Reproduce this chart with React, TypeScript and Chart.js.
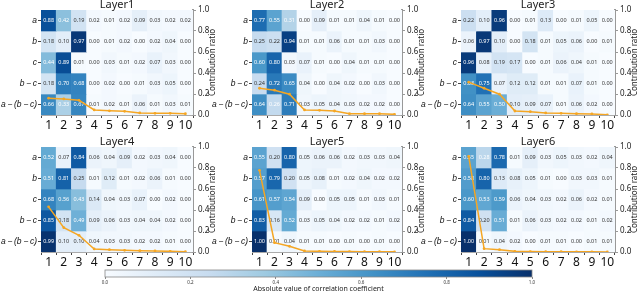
import React, { useEffect, useRef } from 'react';
import { Chart, registerables } from 'chart.js';

Chart.register(...registerables);

// ---------- data ----------
const ROW_LABELS = ['a', 'b', 'c', 'b\u2009\u2212\u2009c', 'a\u2009\u2212\u2009(b\u2009\u2212\u2009c)'];
const COMPONENTS = ['1', '2', '3', '4', '5', '6', '7', '8', '9', '10'];
const LAYER_NAMES = ['Layer1', 'Layer2', 'Layer3', 'Layer4', 'Layer5', 'Layer6'];

const LAYER1 = [
  [0.88, 0.42, 0.19, 0.02, 0.01, 0.02, 0.09, 0.03, 0.02, 0.02],
  [0.18, 0.10, 0.97, 0.00, 0.01, 0.02, 0.00, 0.02, 0.04, 0.00],
  [0.44, 0.89, 0.01, 0.00, 0.03, 0.01, 0.02, 0.07, 0.03, 0.00],
  [0.18, 0.70, 0.68, 0.00, 0.02, 0.00, 0.01, 0.03, 0.05, 0.00],
  [0.66, 0.33, 0.67, 0.01, 0.02, 0.01, 0.06, 0.01, 0.03, 0.01],
];
const LAYER2 = [
  [0.77, 0.55, 0.31, 0.00, 0.09, 0.01, 0.01, 0.04, 0.01, 0.00],
  [0.25, 0.22, 0.94, 0.01, 0.01, 0.06, 0.01, 0.01, 0.03, 0.00],
  [0.60, 0.80, 0.03, 0.07, 0.01, 0.00, 0.04, 0.01, 0.01, 0.00],
  [0.24, 0.72, 0.65, 0.04, 0.00, 0.04, 0.02, 0.00, 0.03, 0.00],
  [0.64, 0.26, 0.71, 0.03, 0.05, 0.04, 0.03, 0.02, 0.02, 0.00],
];
const LAYER3 = [
  [0.22, 0.10, 0.96, 0.00, 0.01, 0.13, 0.00, 0.01, 0.05, 0.00],
  [0.06, 0.97, 0.10, 0.00, 0.18, 0.01, 0.05, 0.06, 0.00, 0.01],
  [0.96, 0.08, 0.19, 0.17, 0.00, 0.01, 0.06, 0.04, 0.01, 0.00],
  [0.63, 0.75, 0.07, 0.12, 0.12, 0.01, 0.01, 0.07, 0.01, 0.00],
  [0.64, 0.55, 0.50, 0.10, 0.09, 0.07, 0.01, 0.06, 0.02, 0.00],
];
const LAYER4 = [
  [0.52, 0.07, 0.84, 0.06, 0.04, 0.09, 0.02, 0.03, 0.04, 0.00],
  [0.51, 0.81, 0.25, 0.01, 0.12, 0.01, 0.02, 0.06, 0.01, 0.00],
  [0.68, 0.56, 0.43, 0.14, 0.04, 0.03, 0.07, 0.00, 0.02, 0.00],
  [0.85, 0.18, 0.49, 0.09, 0.06, 0.03, 0.04, 0.04, 0.02, 0.00],
  [0.99, 0.10, 0.10, 0.04, 0.03, 0.03, 0.02, 0.02, 0.01, 0.00],
];
const LAYER5 = [
  [0.55, 0.20, 0.80, 0.05, 0.06, 0.06, 0.02, 0.03, 0.03, 0.04],
  [0.57, 0.79, 0.20, 0.05, 0.08, 0.01, 0.02, 0.04, 0.02, 0.02],
  [0.61, 0.57, 0.54, 0.09, 0.00, 0.05, 0.05, 0.01, 0.03, 0.01],
  [0.83, 0.16, 0.52, 0.03, 0.05, 0.04, 0.02, 0.02, 0.01, 0.02],
  [1.00, 0.01, 0.04, 0.01, 0.01, 0.00, 0.01, 0.00, 0.01, 0.00],
];
const LAYER6 = [
  [0.55, 0.28, 0.78, 0.01, 0.09, 0.03, 0.05, 0.03, 0.02, 0.04],
  [0.58, 0.80, 0.13, 0.08, 0.05, 0.01, 0.00, 0.03, 0.03, 0.01],
  [0.60, 0.53, 0.59, 0.06, 0.04, 0.03, 0.02, 0.06, 0.02, 0.01],
  [0.84, 0.20, 0.51, 0.01, 0.06, 0.03, 0.02, 0.02, 0.01, 0.02],
  [1.00, 0.01, 0.04, 0.02, 0.00, 0.01, 0.01, 0.00, 0.01, 0.01],
];

const RATIO1 = [0.16, 0.153, 0.14, 0.048, 0.04, 0.035, 0.02, 0.016, 0.016, 0.013];
const RATIO2 = [0.255, 0.236, 0.198, 0.048, 0.045, 0.038, 0.013, 0.013, 0.013, 0.006];
const RATIO3 = [0.313, 0.255, 0.198, 0.038, 0.032, 0.02, 0.016, 0.013, 0.01, 0.002];
const RATIO4 = [0.43, 0.232, 0.159, 0.029, 0.022, 0.016, 0.013, 0.01, 0.006, 0.003];
const RATIO5 = [0.778, 0.089, 0.054, 0.01, 0.006, 0.005, 0.004, 0.003, 0.003, 0.002];
const RATIO6 = [0.91, 0.032, 0.022, 0.006, 0.004, 0.003, 0.003, 0.002, 0.002, 0.001];

const RATIO_TICKS = [0, 0.2, 0.4, 0.6, 0.8, 1.0];
const CBAR_TICKS = [0, 0.2, 0.4, 0.6, 0.8, 1.0];
const CBAR_TITLE = 'Absolute value of correlation coefficient';
const RATIO_TITLE = 'Contribution ratio';

const MATRICES = [LAYER1, LAYER2, LAYER3, LAYER4, LAYER5, LAYER6];
const RATIOS = [RATIO1, RATIO2, RATIO3, RATIO4, RATIO5, RATIO6];

// ---------- style ----------
const FONT = "'Noto Sans', 'DejaVu Sans', sans-serif";
const ORANGE = '#f5a623';
const BLUES = ['#f7fbff', '#deebf7', '#c6dbef', '#9ecae1', '#6baed6', '#4292c6', '#2171b5', '#08519c', '#08306b'];

function hexToRgb(h: string) {
  const n = parseInt(h.slice(1), 16);
  return [(n >> 16) & 255, (n >> 8) & 255, n & 255];
}
function blues(v: number) {
  const t = Math.max(0, Math.min(1, v)) * (BLUES.length - 1);
  const i = Math.min(BLUES.length - 2, Math.floor(t));
  const f = t - i;
  const a = hexToRgb(BLUES[i]);
  const b = hexToRgb(BLUES[i + 1]);
  const c = a.map((x, k) => Math.round(x + (b[k] - x) * f));
  return `rgb(${c[0]},${c[1]},${c[2]})`;
}

// layout (pixels)
const COLS = [
  { left: 0, width: 222, heatLeft: 41, heatRight: 193 },
  { left: 210, width: 222, heatLeft: 252, heatRight: 402 },
  { left: 420, width: 220, heatLeft: 461, heatRight: 615 },
];
const ROWS = [
  { top: 0, height: 137, heatTop: 10, heatBottom: 115 },
  { top: 137, height: 131, heatTop: 147, heatBottom: 252 },
];

type PanelProps = { idx: number };

function Panel({ idx }: PanelProps) {
  const ref = useRef<HTMLCanvasElement>(null);
  const col = COLS[idx % 3];
  const row = ROWS[Math.floor(idx / 3)];
  const matrix = MATRICES[idx];
  const ratio = RATIOS[idx];
  const title = LAYER_NAMES[idx];

  useEffect(() => {
    const canvas = ref.current!;
    const yW = col.heatLeft - col.left;
    const y2W = col.left + col.width - col.heatRight;
    const xH = row.top + row.height - row.heatBottom;
    const padTop = row.heatTop - row.top;

    const barSets: any[] = ROW_LABELS.map((lab, i) => ({
      type: 'bar',
      label: lab,
      data: COMPONENTS.map(() => [i, i + 1]),
      backgroundColor: matrix[i].map((v) => blues(v)),
      borderWidth: 0,
      barPercentage: 1,
      categoryPercentage: 1,
      grouped: false,
      yAxisID: 'y',
      order: 1,
    }));
    const lineSet: any = {
      type: 'line',
      label: 'ratio',
      data: ratio,
      borderColor: ORANGE,
      backgroundColor: ORANGE,
      borderWidth: 1.5,
      pointRadius: 1.4,
      pointBorderWidth: 0,
      tension: 0,
      yAxisID: 'y2',
      order: 0,
    };

    const cellText = {
      id: 'cellText',
      beforeDatasetDraw(chart: any, args: any) {
        if (args.meta.type !== 'line') return;
        const ctx = chart.ctx;
        const xs = chart.scales.x;
        const ys = chart.scales.y;
        ctx.save();
        ctx.font = `5.5px ${FONT}`;
        ctx.textAlign = 'center';
        ctx.textBaseline = 'middle';
        matrix.forEach((r, i) => {
          r.forEach((v, j) => {
            ctx.fillStyle = v >= 0.26 ? '#ffffff' : '#333333';
            ctx.fillText(v.toFixed(2), xs.getPixelForValue(j), ys.getPixelForValue(i + 0.5));
          });
        });
        ctx.restore();
      },
      afterDraw(chart: any) {
        const ctx = chart.ctx;
        const a = chart.chartArea;
        ctx.save();
        ctx.fillStyle = '#222';
        ctx.font = `11px ${FONT}`;
        ctx.textAlign = 'center';
        ctx.textBaseline = 'middle';
        ctx.fillText(title, (a.left + a.right) / 2, a.top - 5);
        ctx.translate(a.right + 20, (a.top + a.bottom) / 2);
        ctx.rotate(-Math.PI / 2);
        ctx.font = `8px ${FONT}`;
        ctx.fillText(RATIO_TITLE, 0, 0);
        ctx.restore();
      },
    };

    const chart = new Chart(canvas, {
      type: 'bar',
      data: { labels: COMPONENTS, datasets: [...barSets, lineSet] },
      options: {
        responsive: false,
        animation: false,
        maintainAspectRatio: false,
        layout: { padding: { top: padTop, left: 0, right: 0, bottom: 0 } },
        plugins: { legend: { display: false }, tooltip: { enabled: false }, title: { display: false } },
        scales: {
          x: {
            type: 'category',
            offset: true,
            grid: { display: true, drawOnChartArea: false, tickLength: 3, color: '#444' },
            border: { display: true, color: '#aaa', width: 1 },
            ticks: { font: { size: 12, family: FONT }, color: '#111', padding: 0, maxRotation: 0, autoSkip: false },
            afterFit: (s: any) => { s.height = xH; },
          },
          y: {
            type: 'linear',
            position: 'left',
            min: 0,
            max: 5,
            reverse: true,
            afterBuildTicks: (axis: any) => {
              axis.ticks = ROW_LABELS.map((_, i) => ({ value: i + 0.5 }));
            },
            ticks: {
              callback: (v: any) => ROW_LABELS[Math.floor(Number(v))],
              font: { size: 8.5, style: 'italic', family: "'Liberation Sans', 'DejaVu Sans', sans-serif" },
              color: '#111',
              padding: 1,
            },
            grid: { display: true, drawOnChartArea: false, tickLength: 3, color: '#444' },
            border: { display: false },
            afterFit: (s: any) => { s.width = yW; },
          },
          y2: {
            type: 'linear',
            position: 'right',
            min: 0,
            max: 1,
            afterBuildTicks: (axis: any) => {
              axis.ticks = RATIO_TICKS.map((v) => ({ value: v }));
            },
            ticks: {
              callback: (v: any) => Number(v).toFixed(1),
              font: { size: 8, family: FONT },
              color: '#222',
              padding: 2,
            },
            grid: { display: true, drawOnChartArea: false, tickLength: 3, color: '#999' },
            border: { display: true, color: '#999', width: 2 },
            afterFit: (s: any) => { s.width = y2W; },
          },
        },
      } as any,
      plugins: [cellText],
    });
    return () => chart.destroy();
  }, []);

  return (
    <canvas
      ref={ref}
      width={col.width}
      height={row.height}
      style={{ position: 'absolute', left: col.left, top: row.top, width: col.width, height: row.height }}
    />
  );
}

function ColorBar() {
  const ref = useRef<HTMLCanvasElement>(null);
  useEffect(() => {
    const canvas = ref.current!;
    const grad = {
      id: 'grad',
      beforeDatasetsDraw(chart: any) {
        const ctx = chart.ctx;
        const a = chart.chartArea;
        const xs = chart.scales.x;
        const g = ctx.createLinearGradient(xs.getPixelForValue(0), 0, xs.getPixelForValue(1), 0);
        BLUES.forEach((c, i) => g.addColorStop(i / (BLUES.length - 1), c));
        ctx.save();
        ctx.fillStyle = g;
        ctx.fillRect(a.left, a.top, a.right - a.left, a.bottom - a.top);
        ctx.strokeStyle = '#888';
        ctx.lineWidth = 0.8;
        ctx.strokeRect(a.left, a.top, a.right - a.left, a.bottom - a.top);
        ctx.restore();
      },
    };
    const chart = new Chart(canvas, {
      type: 'scatter',
      data: { datasets: [{ data: [] }] },
      options: {
        responsive: false,
        animation: false,
        maintainAspectRatio: false,
        layout: { padding: { left: 105, right: 108, top: 2, bottom: 0 } },
        plugins: { legend: { display: false }, tooltip: { enabled: false } },
        scales: {
          x: {
            type: 'linear',
            min: 0,
            max: 1,
            afterBuildTicks: (axis: any) => {
              axis.ticks = CBAR_TICKS.map((v) => ({ value: v }));
            },
            ticks: { callback: (v: any) => Number(v).toFixed(1), font: { size: 4.5, family: FONT }, color: '#333', padding: 1, maxRotation: 0 },
            grid: { display: true, drawOnChartArea: false, tickLength: 2, color: '#888' },
            border: { display: false },
            title: { display: true, text: CBAR_TITLE, font: { size: 7, family: FONT }, color: '#222', padding: 0 },
            afterFit: (s: any) => { s.height = 16; },
          },
          y: { display: false, min: 0, max: 1 },
        },
      } as any,
      plugins: [grad],
    });
    return () => chart.destroy();
  }, []);
  return <canvas ref={ref} width={640} height={25} style={{ position: 'absolute', left: 0, top: 268, width: 640, height: 25 }} />;
}

export default function App() {
  return (
    <div style={{ position: 'absolute', left: 0, top: 0, width: 640, height: 293, background: '#fff', overflow: 'hidden' }}>
      {[0, 1, 2, 3, 4, 5].map((i) => (
        <Panel key={i} idx={i} />
      ))}
      <ColorBar />
    </div>
  );
}
